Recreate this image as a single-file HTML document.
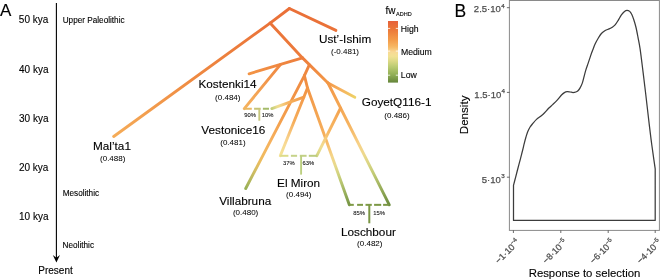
<!DOCTYPE html>
<html><head><meta charset="utf-8">
<style>
html,body{margin:0;padding:0;background:#fff;}
body{width:660px;height:279px;overflow:hidden;}
text{stroke:#000;stroke-width:0.12px;}
.gr text,text.gr{stroke:#4d4d4d;stroke-width:0.25px;}
.pc text{stroke-width:0.08px;}
.val text{stroke-width:0.04px;}
svg{display:block;font-family:"Liberation Sans",sans-serif;will-change:transform;}
</style></head>
<body>
<svg width="660" height="279" viewBox="0 0 660 279">
<defs>
<linearGradient id="cbar" x1="0" y1="0" x2="0" y2="1"><stop offset="0.000" stop-color="#e6613a"/><stop offset="0.025" stop-color="#e7653a"/><stop offset="0.050" stop-color="#e86939"/><stop offset="0.075" stop-color="#e96e39"/><stop offset="0.100" stop-color="#ea7238"/><stop offset="0.125" stop-color="#eb7638"/><stop offset="0.150" stop-color="#ec7b3b"/><stop offset="0.175" stop-color="#ed803d"/><stop offset="0.200" stop-color="#ef853f"/><stop offset="0.225" stop-color="#f08b41"/><stop offset="0.250" stop-color="#f19044"/><stop offset="0.275" stop-color="#f29546"/><stop offset="0.300" stop-color="#f39a48"/><stop offset="0.325" stop-color="#f4a04e"/><stop offset="0.350" stop-color="#f5a654"/><stop offset="0.375" stop-color="#f6ad5a"/><stop offset="0.400" stop-color="#f6b35f"/><stop offset="0.425" stop-color="#f7ba67"/><stop offset="0.450" stop-color="#f7c476"/><stop offset="0.475" stop-color="#f8ce85"/><stop offset="0.500" stop-color="#f8d894"/><stop offset="0.525" stop-color="#f6dc94"/><stop offset="0.550" stop-color="#f4df94"/><stop offset="0.575" stop-color="#f2e193"/><stop offset="0.600" stop-color="#eadf8f"/><stop offset="0.625" stop-color="#e3dc8a"/><stop offset="0.650" stop-color="#dcd986"/><stop offset="0.675" stop-color="#d3d580"/><stop offset="0.700" stop-color="#cad27b"/><stop offset="0.725" stop-color="#c1ce76"/><stop offset="0.750" stop-color="#b8ca70"/><stop offset="0.775" stop-color="#b0c46b"/><stop offset="0.800" stop-color="#a8be65"/><stop offset="0.825" stop-color="#a0b960"/><stop offset="0.850" stop-color="#98b35a"/><stop offset="0.875" stop-color="#90ad55"/><stop offset="0.900" stop-color="#87a650"/><stop offset="0.925" stop-color="#7e9d4a"/><stop offset="0.950" stop-color="#769545"/><stop offset="0.975" stop-color="#6d8d3f"/><stop offset="1.000" stop-color="#64853a"/></linearGradient>
<linearGradient id="g0" gradientUnits="userSpaceOnUse" x1="289.40" y1="8.50" x2="335.90" y2="30.40"><stop offset="0.000" stop-color="#ea7038"/><stop offset="0.083" stop-color="#ea7038"/><stop offset="0.167" stop-color="#ea7038"/><stop offset="0.250" stop-color="#ea7038"/><stop offset="0.333" stop-color="#ea7138"/><stop offset="0.417" stop-color="#ea7138"/><stop offset="0.500" stop-color="#ea7138"/><stop offset="0.583" stop-color="#ea7138"/><stop offset="0.667" stop-color="#ea7138"/><stop offset="0.750" stop-color="#ea7238"/><stop offset="0.833" stop-color="#ea7238"/><stop offset="0.917" stop-color="#ea7238"/><stop offset="1.000" stop-color="#ea7238"/></linearGradient>
<linearGradient id="g1" gradientUnits="userSpaceOnUse" x1="289.40" y1="8.50" x2="270.10" y2="23.10"><stop offset="0.000" stop-color="#ea7038"/><stop offset="0.083" stop-color="#ea7038"/><stop offset="0.167" stop-color="#ea7038"/><stop offset="0.250" stop-color="#ea7038"/><stop offset="0.333" stop-color="#ea7138"/><stop offset="0.417" stop-color="#ea7138"/><stop offset="0.500" stop-color="#ea7138"/><stop offset="0.583" stop-color="#ea7138"/><stop offset="0.667" stop-color="#ea7138"/><stop offset="0.750" stop-color="#ea7238"/><stop offset="0.833" stop-color="#ea7238"/><stop offset="0.917" stop-color="#ea7238"/><stop offset="1.000" stop-color="#ea7238"/></linearGradient>
<linearGradient id="g2" gradientUnits="userSpaceOnUse" x1="270.10" y1="23.10" x2="113.70" y2="136.50"><stop offset="0.000" stop-color="#ea7238"/><stop offset="0.083" stop-color="#eb763a"/><stop offset="0.167" stop-color="#ec7a3b"/><stop offset="0.250" stop-color="#ec7e3c"/><stop offset="0.333" stop-color="#ed823e"/><stop offset="0.417" stop-color="#ee8640"/><stop offset="0.500" stop-color="#ef8a41"/><stop offset="0.583" stop-color="#f09045"/><stop offset="0.667" stop-color="#f19549"/><stop offset="0.750" stop-color="#f29b4c"/><stop offset="0.833" stop-color="#f3a150"/><stop offset="0.917" stop-color="#f4a654"/><stop offset="1.000" stop-color="#f5ac58"/></linearGradient>
<linearGradient id="g3" gradientUnits="userSpaceOnUse" x1="270.10" y1="23.10" x2="302.50" y2="57.90"><stop offset="0.000" stop-color="#ea7238"/><stop offset="0.083" stop-color="#ea7338"/><stop offset="0.167" stop-color="#ea7439"/><stop offset="0.250" stop-color="#eb7539"/><stop offset="0.333" stop-color="#eb7639"/><stop offset="0.417" stop-color="#eb773a"/><stop offset="0.500" stop-color="#ec783a"/><stop offset="0.583" stop-color="#ec783a"/><stop offset="0.667" stop-color="#ec793b"/><stop offset="0.750" stop-color="#ec7a3b"/><stop offset="0.833" stop-color="#ec7b3b"/><stop offset="0.917" stop-color="#ed7c3c"/><stop offset="1.000" stop-color="#ed7d3c"/></linearGradient>
<linearGradient id="g4" gradientUnits="userSpaceOnUse" x1="302.50" y1="57.90" x2="328.00" y2="83.00"><stop offset="0.000" stop-color="#ed7d3c"/><stop offset="0.083" stop-color="#ee7f3d"/><stop offset="0.167" stop-color="#ee823e"/><stop offset="0.250" stop-color="#ee843f"/><stop offset="0.333" stop-color="#ef8640"/><stop offset="0.417" stop-color="#f08841"/><stop offset="0.500" stop-color="#f08a42"/><stop offset="0.583" stop-color="#f08d42"/><stop offset="0.667" stop-color="#f18f43"/><stop offset="0.750" stop-color="#f29144"/><stop offset="0.833" stop-color="#f29445"/><stop offset="0.917" stop-color="#f29646"/><stop offset="1.000" stop-color="#f39847"/></linearGradient>
<linearGradient id="g5" gradientUnits="userSpaceOnUse" x1="328.00" y1="83.00" x2="354.80" y2="97.20"><stop offset="0.000" stop-color="#f39847"/><stop offset="0.083" stop-color="#f49c4b"/><stop offset="0.167" stop-color="#f4a14f"/><stop offset="0.250" stop-color="#f4a653"/><stop offset="0.333" stop-color="#f5aa57"/><stop offset="0.417" stop-color="#f6ae5b"/><stop offset="0.500" stop-color="#f6b35f"/><stop offset="0.583" stop-color="#f5b75f"/><stop offset="0.667" stop-color="#f3bc60"/><stop offset="0.750" stop-color="#f2c060"/><stop offset="0.833" stop-color="#f1c662"/><stop offset="0.917" stop-color="#efcc64"/><stop offset="1.000" stop-color="#eed266"/></linearGradient>
<linearGradient id="g6" gradientUnits="userSpaceOnUse" x1="302.50" y1="57.90" x2="249.10" y2="73.80"><stop offset="0.000" stop-color="#ed7d3c"/><stop offset="0.083" stop-color="#ed7f3d"/><stop offset="0.167" stop-color="#ee813e"/><stop offset="0.250" stop-color="#ee833e"/><stop offset="0.333" stop-color="#ef853f"/><stop offset="0.417" stop-color="#ef8740"/><stop offset="0.500" stop-color="#f08840"/><stop offset="0.583" stop-color="#f08a41"/><stop offset="0.667" stop-color="#f08c42"/><stop offset="0.750" stop-color="#f18e43"/><stop offset="0.833" stop-color="#f19044"/><stop offset="0.917" stop-color="#f29244"/><stop offset="1.000" stop-color="#f29445"/></linearGradient>
<linearGradient id="g7" gradientUnits="userSpaceOnUse" x1="280.60" y1="64.42" x2="244.30" y2="108.60"><stop offset="0.000" stop-color="#ef853f"/><stop offset="0.083" stop-color="#f08942"/><stop offset="0.167" stop-color="#f08d44"/><stop offset="0.250" stop-color="#f19047"/><stop offset="0.333" stop-color="#f1944a"/><stop offset="0.417" stop-color="#f2984c"/><stop offset="0.500" stop-color="#f29c4f"/><stop offset="0.583" stop-color="#f3a052"/><stop offset="0.667" stop-color="#f4a454"/><stop offset="0.750" stop-color="#f4a857"/><stop offset="0.833" stop-color="#f5ab5a"/><stop offset="0.917" stop-color="#f5af5c"/><stop offset="1.000" stop-color="#f6b35f"/></linearGradient>
<linearGradient id="g8" gradientUnits="userSpaceOnUse" x1="309.41" y1="64.70" x2="304.40" y2="75.70"><stop offset="0.000" stop-color="#ee833e"/><stop offset="0.083" stop-color="#ee843e"/><stop offset="0.167" stop-color="#ee843e"/><stop offset="0.250" stop-color="#ee853f"/><stop offset="0.333" stop-color="#ee853f"/><stop offset="0.417" stop-color="#ee863f"/><stop offset="0.500" stop-color="#ee8640"/><stop offset="0.583" stop-color="#ef8740"/><stop offset="0.667" stop-color="#ef8840"/><stop offset="0.750" stop-color="#ef8840"/><stop offset="0.833" stop-color="#ef8940"/><stop offset="0.917" stop-color="#ef8941"/><stop offset="1.000" stop-color="#ef8a41"/></linearGradient>
<linearGradient id="g9" gradientUnits="userSpaceOnUse" x1="304.40" y1="75.70" x2="245.70" y2="188.50"><stop offset="0.000" stop-color="#ef8a41"/><stop offset="0.083" stop-color="#f08e44"/><stop offset="0.167" stop-color="#f19346"/><stop offset="0.250" stop-color="#f29748"/><stop offset="0.333" stop-color="#f39c4b"/><stop offset="0.417" stop-color="#f4a14e"/><stop offset="0.500" stop-color="#f5a956"/><stop offset="0.583" stop-color="#f6b15e"/><stop offset="0.667" stop-color="#f3b75f"/><stop offset="0.750" stop-color="#edbc5e"/><stop offset="0.833" stop-color="#d6be63"/><stop offset="0.917" stop-color="#b9b85e"/><stop offset="1.000" stop-color="#98b056"/></linearGradient>
<linearGradient id="g10" gradientUnits="userSpaceOnUse" x1="304.40" y1="75.70" x2="307.50" y2="88.00"><stop offset="0.000" stop-color="#ef8a41"/><stop offset="0.083" stop-color="#ef8b41"/><stop offset="0.167" stop-color="#ef8b42"/><stop offset="0.250" stop-color="#f08c42"/><stop offset="0.333" stop-color="#f08d42"/><stop offset="0.417" stop-color="#f08d42"/><stop offset="0.500" stop-color="#f08e42"/><stop offset="0.583" stop-color="#f08f43"/><stop offset="0.667" stop-color="#f08f43"/><stop offset="0.750" stop-color="#f09043"/><stop offset="0.833" stop-color="#f19144"/><stop offset="0.917" stop-color="#f19144"/><stop offset="1.000" stop-color="#f19244"/></linearGradient>
<linearGradient id="g11" gradientUnits="userSpaceOnUse" x1="307.50" y1="88.00" x2="280.30" y2="155.70"><stop offset="0.000" stop-color="#f19244"/><stop offset="0.083" stop-color="#f29748"/><stop offset="0.167" stop-color="#f39b4c"/><stop offset="0.250" stop-color="#f4a050"/><stop offset="0.333" stop-color="#f4a553"/><stop offset="0.417" stop-color="#f5a957"/><stop offset="0.500" stop-color="#f6ae5b"/><stop offset="0.583" stop-color="#f7ba6b"/><stop offset="0.667" stop-color="#f7c57b"/><stop offset="0.750" stop-color="#f8d18a"/><stop offset="0.833" stop-color="#f7da94"/><stop offset="0.917" stop-color="#f5de94"/><stop offset="1.000" stop-color="#f3e294"/></linearGradient>
<linearGradient id="g12" gradientUnits="userSpaceOnUse" x1="307.50" y1="88.00" x2="349.30" y2="204.80"><stop offset="0.000" stop-color="#f29646"/><stop offset="0.083" stop-color="#f39b4b"/><stop offset="0.167" stop-color="#f3a14f"/><stop offset="0.250" stop-color="#f4a654"/><stop offset="0.333" stop-color="#f5ab59"/><stop offset="0.417" stop-color="#f6b15d"/><stop offset="0.500" stop-color="#f6c06f"/><stop offset="0.583" stop-color="#f5d589"/><stop offset="0.667" stop-color="#e6d98c"/><stop offset="0.750" stop-color="#ccd17c"/><stop offset="0.833" stop-color="#b0c06b"/><stop offset="0.917" stop-color="#93ab58"/><stop offset="1.000" stop-color="#769545"/></linearGradient>
<linearGradient id="g13" gradientUnits="userSpaceOnUse" x1="328.00" y1="83.00" x2="389.30" y2="204.80"><stop offset="0.000" stop-color="#f39847"/><stop offset="0.083" stop-color="#f49e4d"/><stop offset="0.167" stop-color="#f4a552"/><stop offset="0.250" stop-color="#f5ab58"/><stop offset="0.333" stop-color="#f6b25e"/><stop offset="0.417" stop-color="#f6c071"/><stop offset="0.500" stop-color="#f7d187"/><stop offset="0.583" stop-color="#eed98f"/><stop offset="0.667" stop-color="#d8d583"/><stop offset="0.750" stop-color="#c0ca74"/><stop offset="0.833" stop-color="#a4b662"/><stop offset="0.917" stop-color="#87a150"/><stop offset="1.000" stop-color="#6b8c3e"/></linearGradient>
<linearGradient id="g14" gradientUnits="userSpaceOnUse" x1="303.84" y1="97.10" x2="271.80" y2="108.60"><stop offset="0.000" stop-color="#f39a48"/><stop offset="0.083" stop-color="#f49e4c"/><stop offset="0.167" stop-color="#f4a250"/><stop offset="0.250" stop-color="#f4a654"/><stop offset="0.333" stop-color="#f5ab57"/><stop offset="0.417" stop-color="#f6af5b"/><stop offset="0.500" stop-color="#f6b35f"/><stop offset="0.583" stop-color="#f5bf6e"/><stop offset="0.667" stop-color="#f5cb7c"/><stop offset="0.750" stop-color="#f4d88b"/><stop offset="0.833" stop-color="#ecdc8f"/><stop offset="0.917" stop-color="#d7d583"/><stop offset="1.000" stop-color="#c3ce77"/></linearGradient>
<linearGradient id="g15" gradientUnits="userSpaceOnUse" x1="340.58" y1="108.00" x2="316.90" y2="155.70"><stop offset="0.000" stop-color="#f4a24f"/><stop offset="0.083" stop-color="#f4a652"/><stop offset="0.167" stop-color="#f5a956"/><stop offset="0.250" stop-color="#f6ad5a"/><stop offset="0.333" stop-color="#f6b15d"/><stop offset="0.417" stop-color="#f6b460"/><stop offset="0.500" stop-color="#f7b864"/><stop offset="0.583" stop-color="#f6c371"/><stop offset="0.667" stop-color="#f5ce7f"/><stop offset="0.750" stop-color="#f4d88c"/><stop offset="0.833" stop-color="#eedd90"/><stop offset="0.917" stop-color="#e0d988"/><stop offset="1.000" stop-color="#d1d47f"/></linearGradient>
</defs>

<!-- ===== Panel A ===== -->
<text x="0" y="16.4" font-size="17">A</text>
<g font-size="10" text-anchor="end" fill="#000">
<text x="48.3" y="22.7">50 kya</text>
<text x="48.5" y="73">40 kya</text>
<text x="48.5" y="122">30 kya</text>
<text x="48.4" y="170.6">20 kya</text>
<text x="48.5" y="219.6">10 kya</text>
</g>
<line x1="56.4" y1="3" x2="56.4" y2="258" stroke="#000" stroke-width="1.1"/>
<path d="M52.8,255 L56.4,262.4 L60,255 L56.4,257.8 Z" fill="#000"/>
<g font-size="8.2" fill="#000">
<text x="62.7" y="22.7">Upper Paleolithic</text>
<text x="62.7" y="195.9">Mesolithic</text>
<text x="62.6" y="247.8">Neolithic</text>
</g>
<text x="55.5" y="274.4" font-size="10" text-anchor="middle">Present</text>

<!-- tree -->
<g fill="none" stroke-width="2.9" stroke-linecap="round" stroke-linejoin="round">
<line x1="289.40" y1="8.50" x2="335.90" y2="30.40" stroke="url(#g0)"/>
<line x1="289.40" y1="8.50" x2="270.10" y2="23.10" stroke="url(#g1)"/>
<line x1="270.10" y1="23.10" x2="113.70" y2="136.50" stroke="url(#g2)"/>
<line x1="270.10" y1="23.10" x2="302.50" y2="57.90" stroke="url(#g3)"/>
<line x1="302.50" y1="57.90" x2="328.00" y2="83.00" stroke="url(#g4)"/>
<line x1="328.00" y1="83.00" x2="354.80" y2="97.20" stroke="url(#g5)"/>
<line x1="302.50" y1="57.90" x2="249.10" y2="73.80" stroke="url(#g6)"/>
<line x1="280.60" y1="64.42" x2="244.30" y2="108.60" stroke="url(#g7)"/>
<line x1="309.41" y1="64.70" x2="304.40" y2="75.70" stroke="url(#g8)"/>
<line x1="304.40" y1="75.70" x2="245.70" y2="188.50" stroke="url(#g9)"/>
<line x1="304.40" y1="75.70" x2="307.50" y2="88.00" stroke="url(#g10)"/>
<line x1="307.50" y1="88.00" x2="280.30" y2="155.70" stroke="url(#g11)"/>
<line x1="307.50" y1="88.00" x2="349.30" y2="204.80" stroke="url(#g12)"/>
<line x1="328.00" y1="83.00" x2="389.30" y2="204.80" stroke="url(#g13)"/>
<line x1="303.84" y1="97.10" x2="271.80" y2="108.60" stroke="url(#g14)"/>
<line x1="340.58" y1="108.00" x2="316.90" y2="155.70" stroke="url(#g15)"/>
</g>
<!-- admixture dashed -->
<g fill="none" stroke-width="2">
<line x1="244.3" y1="108.75" x2="251.8" y2="108.75" stroke="#e8b862"/>
<line x1="254.1" y1="108.75" x2="260.7" y2="108.75" stroke="#c6c276"/>
<line x1="262.9" y1="108.75" x2="269" y2="108.75" stroke="#a4bb6a"/>
<line x1="259.3" y1="108.75" x2="259.3" y2="120.7" stroke="#c8c87e" stroke-width="1.9"/>
<line x1="280.3" y1="155.8" x2="288.4" y2="155.8" stroke="#dcdc8a"/>
<line x1="290.9" y1="155.8" x2="297.1" y2="155.8" stroke="#c6d38a"/>
<line x1="299.8" y1="155.8" x2="306.6" y2="155.8" stroke="#c2d086"/>
<line x1="308.8" y1="155.8" x2="316.9" y2="155.8" stroke="#bccc80"/>
<line x1="301.1" y1="155.8" x2="301.1" y2="174.6" stroke="#bccf80" stroke-width="1.9"/>
<line x1="349.3" y1="204.85" x2="353.8" y2="204.85" stroke="#7e9a46"/>
<line x1="357.1" y1="204.85" x2="363" y2="204.85" stroke="#7e9a46"/>
<line x1="365.5" y1="204.85" x2="371.8" y2="204.85" stroke="#7e9a46"/>
<line x1="374.1" y1="204.85" x2="381.2" y2="204.85" stroke="#7c9845"/>
<line x1="383.1" y1="204.85" x2="389.3" y2="204.85" stroke="#7a9644"/>
<line x1="369.3" y1="204.85" x2="369.3" y2="223.3" stroke="#7a9644" stroke-width="2"/>
</g>
<g class="pc" font-size="5.85" text-anchor="middle" fill="#111">
<text x="250.15" y="116.6">90%</text>
<text x="267.6" y="116.6">10%</text>
<text x="288.9" y="165">37%</text>
<text x="308.25" y="165">63%</text>
<text x="359.15" y="215">85%</text>
<text x="379.15" y="215">15%</text>
</g>
<g font-size="11.75" text-anchor="middle" fill="#000">
<text x="345.1" y="42.9">Ust’-Ishim</text>
<text x="112" y="150.4">Mal’ta1</text>
<text x="227.5" y="88.1">Kostenki14</text>
<text x="233.3" y="134.2">Vestonice16</text>
<text x="396.6" y="106.1">GoyetQ116-1</text>
<text x="245.2" y="205">Villabruna</text>
<text x="298.6" y="186.7">El Miron</text>
<text x="368.4" y="236.2">Loschbour</text>
</g>
<g class="val" font-size="8" text-anchor="middle" fill="#000">
<text x="345" y="53.8">(-0.481)</text>
<text x="112.7" y="160.9">(0.488)</text>
<text x="227.8" y="99.5">(0.484)</text>
<text x="232.9" y="145.1">(0.481)</text>
<text x="397" y="117.8">(0.486)</text>
<text x="245.6" y="214.9">(0.480)</text>
<text x="298.8" y="196.5">(0.494)</text>
<text x="369.8" y="245.9">(0.482)</text>
</g>

<!-- legend -->
<text x="385.5" y="13.7" font-size="10">fw</text>
<text x="396.1" y="16.35" font-size="5.5">ADHD</text>
<rect x="388" y="21" width="10" height="61.6" fill="url(#cbar)"/>
<g stroke="#fff" stroke-width="0.8">
<line x1="388" y1="28.4" x2="390.2" y2="28.4"/><line x1="395.8" y1="28.4" x2="398" y2="28.4"/>
<line x1="388" y1="51.1" x2="390.2" y2="51.1"/><line x1="395.8" y1="51.1" x2="398" y2="51.1"/>
<line x1="388" y1="75.2" x2="390.2" y2="75.2"/><line x1="395.8" y1="75.2" x2="398" y2="75.2"/>
</g>
<g font-size="8.7" fill="#000">
<text x="400.8" y="32.1">High</text>
<text x="400.9" y="55.3">Medium</text>
<text x="400.8" y="78.2">Low</text>
</g>

<!-- ===== Panel B ===== -->
<text x="454.5" y="16.6" font-size="17.5">B</text>
<rect x="509.4" y="0.5" width="150" height="229.9" fill="none" stroke="#8a8a8a" stroke-width="1"/>
<path d="M513.5,220.45 L513.5,185.3 C513.85,183.97 514.85,180.18 515.60,177.30 C516.35,174.42 517.18,171.12 518.00,168.00 C518.82,164.88 519.70,161.68 520.50,158.60 C521.30,155.52 522.15,152.13 522.80,149.50 C523.45,146.87 523.88,144.83 524.40,142.80 C524.92,140.77 525.33,139.17 525.90,137.30 C526.47,135.43 527.10,133.32 527.80,131.60 C528.50,129.88 529.25,128.37 530.10,127.00 C530.95,125.63 531.83,124.67 532.90,123.40 C533.97,122.13 535.20,120.60 536.50,119.40 C537.80,118.20 539.35,117.32 540.70,116.20 C542.05,115.08 543.28,114.02 544.60,112.70 C545.92,111.38 547.22,109.68 548.60,108.30 C549.98,106.92 551.47,105.77 552.90,104.40 C554.33,103.03 555.77,101.67 557.20,100.10 C558.63,98.53 560.30,96.25 561.50,95.00 C562.70,93.75 563.45,93.15 564.40,92.60 C565.35,92.05 566.25,91.80 567.20,91.70 C568.15,91.60 569.13,91.87 570.10,92.00 C571.07,92.13 572.05,92.50 573.00,92.50 C573.95,92.50 574.97,92.30 575.80,92.00 C576.63,91.70 577.28,91.38 578.00,90.70 C578.72,90.02 579.40,89.12 580.10,87.90 C580.80,86.68 581.62,85.00 582.20,83.40 C582.78,81.80 583.00,80.52 583.60,78.30 C584.20,76.08 585.03,72.63 585.80,70.10 C586.57,67.57 587.42,65.43 588.20,63.10 C588.98,60.77 589.73,58.32 590.50,56.10 C591.27,53.88 592.02,51.85 592.80,49.80 C593.58,47.75 594.30,45.73 595.20,43.80 C596.10,41.87 597.17,39.92 598.20,38.20 C599.23,36.48 600.23,34.78 601.40,33.50 C602.57,32.22 603.92,31.27 605.20,30.50 C606.48,29.73 607.92,29.45 609.10,28.90 C610.28,28.35 611.30,27.87 612.30,27.20 C613.30,26.53 614.12,26.05 615.10,24.90 C616.08,23.75 617.15,21.97 618.20,20.30 C619.25,18.63 620.35,16.38 621.40,14.90 C622.45,13.42 623.57,12.17 624.50,11.40 C625.43,10.63 626.13,10.30 627.00,10.30 C627.87,10.30 628.90,10.70 629.70,11.40 C630.50,12.10 631.12,13.12 631.80,14.50 C632.48,15.88 633.12,17.62 633.80,19.70 C634.48,21.78 635.20,24.07 635.90,27.00 C636.60,29.93 637.30,33.67 638.00,37.30 C638.70,40.93 639.25,42.95 640.10,48.80 C640.95,54.65 642.15,64.73 643.10,72.40 C644.05,80.07 644.92,87.32 645.80,94.80 C646.68,102.28 647.52,109.82 648.40,117.30 C649.28,124.78 650.18,132.60 651.10,139.70 C652.02,146.80 653.22,155.03 653.90,159.90 C654.58,164.77 654.98,167.40 655.20,168.90 L655.2,220.45 Z" fill="none" stroke="#3c3c3c" stroke-width="1.25" stroke-linejoin="round"/>
<!-- y ticks -->
<g stroke="#444" stroke-width="0.8">
<line x1="506.9" y1="7.7" x2="509.5" y2="7.7"/>
<line x1="506.9" y1="92.4" x2="509.5" y2="92.4"/>
<line x1="506.9" y1="177.2" x2="509.5" y2="177.2"/>
<line x1="513.4" y1="230.4" x2="513.4" y2="233"/>
<line x1="560.8" y1="230.4" x2="560.8" y2="233"/>
<line x1="608.2" y1="230.4" x2="608.2" y2="233"/>
<line x1="655.2" y1="230.4" x2="655.2" y2="233"/>
</g>
<g class="gr" font-size="9.5" fill="#4d4d4d" text-anchor="end">
<text x="500.8" y="11.9">2.5·10</text>
<text x="501.3" y="97.5">1.5·10</text>
<text x="500.8" y="182.6">5·10</text>
</g>
<g class="gr" font-size="6.5" fill="#4d4d4d">
<text x="501.2" y="7.9" font-size="6.2">4</text>
<text x="501.6" y="93.4" font-size="6.2">4</text>
<text x="501.2" y="178.3" font-size="6.2">3</text>
</g>
<text transform="translate(468.1,114.9) rotate(-90)" font-size="11.6" text-anchor="middle" fill="#000">Density</text>
<g class="gr" font-size="9" fill="#4d4d4d">
<text transform="translate(520.1,242.9) rotate(-45)" text-anchor="end">−1·10<tspan font-size="6" dy="-3.8">−4</tspan></text>
<text transform="translate(567.5,242.9) rotate(-45)" text-anchor="end">−8·10<tspan font-size="6" dy="-3.8">−5</tspan></text>
<text transform="translate(614.9,242.9) rotate(-45)" text-anchor="end">−6·10<tspan font-size="6" dy="-3.8">−5</tspan></text>
<text transform="translate(661.9,242.9) rotate(-45)" text-anchor="end">−4·10<tspan font-size="6" dy="-3.8">−5</tspan></text>
</g>
<text x="584.5" y="276.5" font-size="11.35" text-anchor="middle" fill="#000">Response to selection</text>
</svg>
</body></html>
